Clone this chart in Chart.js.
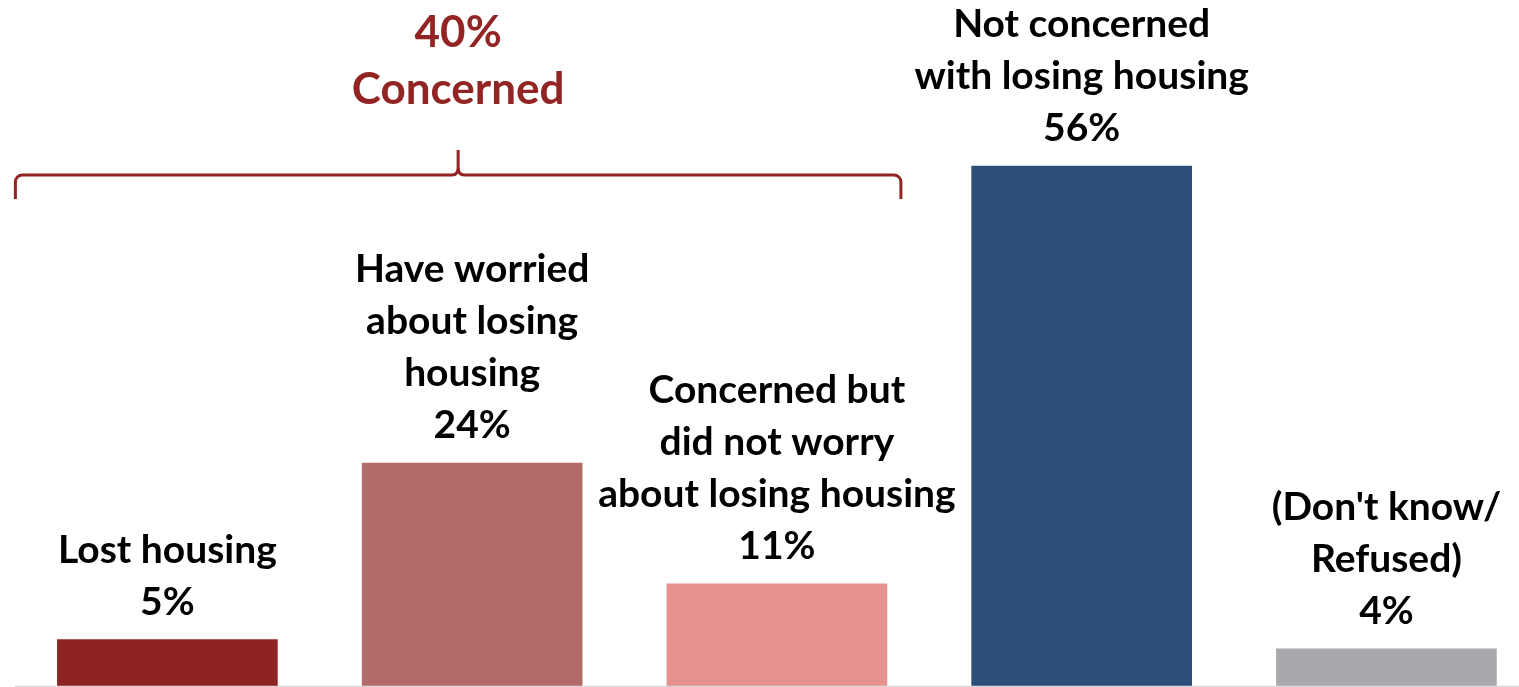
<!DOCTYPE html>
<html>
<head>
<meta charset="utf-8">
<script src="https://cdn.jsdelivr.net/npm/chart.js@4.4.1/dist/chart.umd.min.js"></script>
<style>
	html, body { margin: 0; padding: 0; background: #fff; }
	.wrap { width: 1519px; height: 687px; position: relative; }
</style>
</head>
<body>
<div class="wrap"><canvas id="chart"></canvas></div>
<script>
const categories = [
	['Lost housing'],
	['Have worried', 'about losing', 'housing'],
	['Concerned but', 'did not worry', 'about losing housing'],
	['Not concerned', 'with losing housing'],
	['(Don\'t know/', 'Refused)']
];
const values = [5, 24, 11, 56, 4];
const barColors = ['#8e2323', '#b36b6a', '#e6928e', '#2a4e78', '#a8a9ad'];
const groupLabel = ['40%', 'Concerned'];

const FONT = 'Lato, "DejaVu Sans", sans-serif';
const RED = '#922524';

const labelsPlugin = {
	id: 'labels',
	afterDatasetsDraw(chart) {
		const ctx = chart.ctx;
		const meta = chart.getDatasetMeta(0);
		const area = chart.chartArea;
		const y0 = chart.scales.y.getPixelForValue(0);

		// baseline
		ctx.save();
		ctx.strokeStyle = '#d9d9d9';
		ctx.lineWidth = 1.5;
		ctx.beginPath();
		ctx.moveTo(area.left, y0 + 0.5);
		ctx.lineTo(chart.width, y0 + 0.5);
		ctx.stroke();

		// bar labels
		ctx.fillStyle = '#000';
		ctx.textAlign = 'center';
		ctx.textBaseline = 'alphabetic';
		ctx.font = 'bold 39px ' + FONT;
		meta.data.forEach((bar, i) => {
			const lines = categories[i].concat([values[i] + '%']);
			const base = bar.y - 25;
			lines.forEach((t, j) => {
				ctx.fillText(t, bar.x, base - (lines.length - 1 - j) * 52);
			});
		});

		// brace over the "concerned" bars
		const left = meta.data[0].x - 152;
		const right = meta.data[2].x + 124;
		const mid = meta.data[1].x - 14;
		const yb = 175, yTop = 150, yEnd = 199, r = 7;
		ctx.strokeStyle = RED;
		ctx.lineWidth = 3;
		ctx.lineJoin = 'round';
		ctx.beginPath();
		ctx.moveTo(left, yEnd);
		ctx.arcTo(left, yb, left + r, yb, r);
		ctx.lineTo(mid - 6, yb);
		ctx.quadraticCurveTo(mid, yb, mid, yb - 8);
		ctx.lineTo(mid, yTop);
		ctx.moveTo(mid, yb - 8);
		ctx.quadraticCurveTo(mid, yb, mid + 6, yb);
		ctx.lineTo(right - r, yb);
		ctx.arcTo(right, yb, right, yb + r, r);
		ctx.lineTo(right, yEnd);
		ctx.stroke();

		ctx.fillStyle = RED;
		ctx.font = 'bold 44px ' + FONT;
		ctx.fillText(groupLabel[0], mid, 47);
		ctx.fillText(groupLabel[1], mid, 104);
		ctx.restore();
	}
};

const ctx = document.getElementById('chart').getContext('2d');
window.myChart = new Chart(ctx, {
	type: 'bar',
	data: {
		datasets: [{
			data: values.map((v, i) => ({ x: i, y: v })),
			backgroundColor: barColors,
			barThickness: 220,
			borderWidth: 0
		}]
	},
	options: {
		responsive: true,
		maintainAspectRatio: false,
		animation: false,
		layout: { padding: { left: 15, right: 0, top: 0, bottom: 1 } },
		plugins: { legend: { display: false }, tooltip: { enabled: false } },
		scales: {
			x: { type: 'linear', min: -0.5, max: 4.435, offset: false, display: false },
			y: { min: 0, max: 73.88, display: false }
		}
	},
	plugins: [labelsPlugin]
});
</script>
</body>
</html>
